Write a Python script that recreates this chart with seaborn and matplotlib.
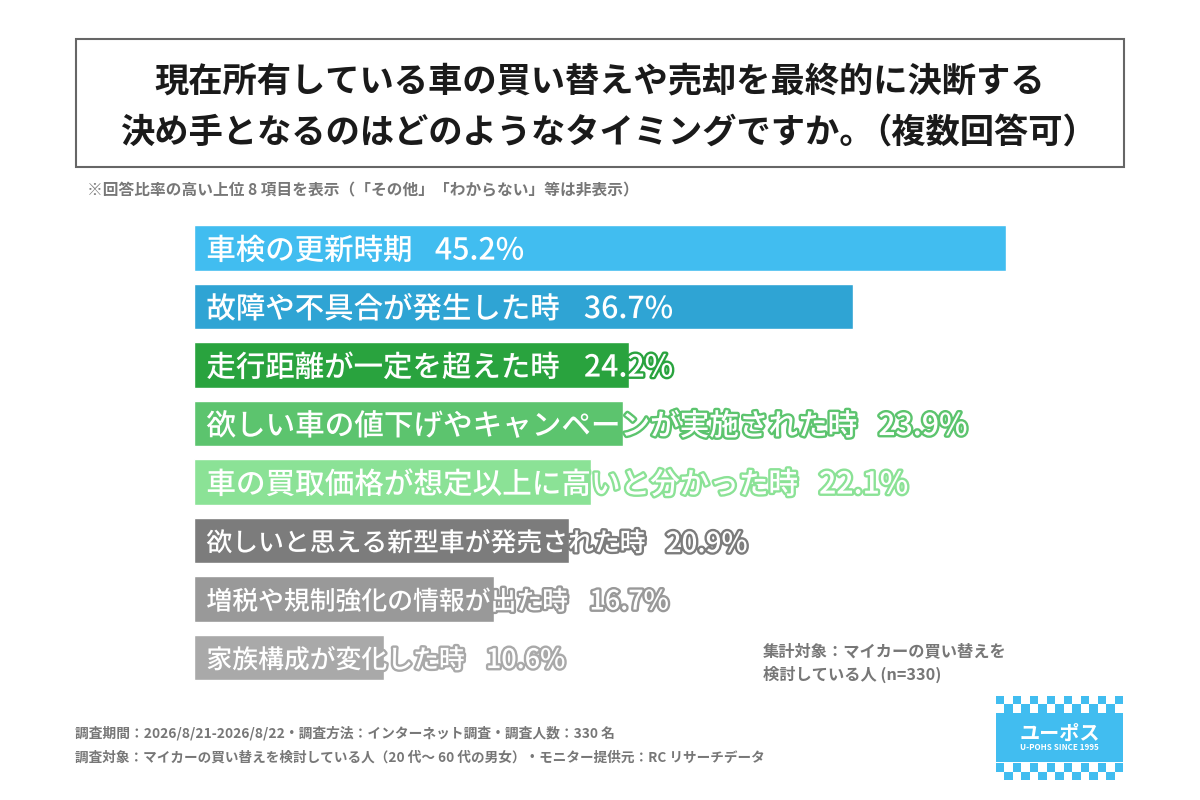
import matplotlib
matplotlib.use("Agg")
import matplotlib.pyplot as plt
import matplotlib.patheffects as pe
from matplotlib.patches import Rectangle
import pandas as pd
import seaborn as sns

title_line1 = "現在所有している車の買い替えや売却を最終的に決断する"
title_line2 = "決め手となるのはどのようなタイミングですか。"
title_paren = "（複数回答可）"
note = "※回答比率の高い上位 8 項目を表示（「その他」「わからない」等は非表示）"
labels = ["車検の更新時期", "故障や不具合が発生した時", "走行距離が一定を超えた時",
          "欲しい車の値下げやキャンペーンが実施された時", "車の買取価格が想定以上に高いと分かった時",
          "欲しいと思える新型車が発売された時", "増税や規制強化の情報が出た時", "家族構成が変化した時"]
values = [45.2, 36.7, 24.2, 23.9, 22.1, 20.9, 16.7, 10.6]
colors = ["#41bdf0", "#2fa4d4", "#29a33e", "#5cc46e", "#8be296", "#7c7c7c", "#999999", "#a9a9a9"]
label_sizes = [21.2, 21.2, 21.2, 21.3, 21.3, 18.6, 18.6, 18.6]
value_sizes = [21.8, 21.8, 21.8, 21.8, 21.8, 20.0, 19.4, 19.4]
value_gaps = [16.5, 18, 18, 14.5, 14.5, 14, 15, 15]
target = ["集計対象：マイカーの買い替えを", "検討している人 (n=330)"]
footer = ["調査期間：2026/8/21-2026/8/22・調査方法：インターネット調査・調査人数：330 名",
          "調査対象：マイカーの買い替えを検討している人（20 代～ 60 代の男女）・モニター提供元：RC リサーチデータ"]

W, H = 1200, 800
sns.set_theme(style="white")
plt.rcParams['font.family'] = ['Noto Sans CJK JP', 'DejaVu Sans']

fig = plt.figure(figsize=(12, 8), dpi=100)

# ページ全体 (ピクセル座標) 用の軸
bg = fig.add_axes([0, 0, 1, 1])
bg.set_xlim(0, W)
bg.set_ylim(H, 0)
bg.axis("off")

bg.add_patch(Rectangle((76, 39), 1048, 128, fill=False, ec="#666666", lw=1.5))
bg.text(600, 81, title_line1, ha="center", va="center", fontsize=24.7, fontweight="bold", color="#1a1a1a")
bg.text(120, 132, title_line2, ha="left", va="center", fontsize=24.7, fontweight="bold", color="#1a1a1a")
bg.text(977, 132, title_paren, ha="center", va="center", fontsize=24.7, fontweight="bold", color="#1a1a1a")
bg.text(87, 190, note, ha="left", va="center", fontsize=11.3, fontweight="bold", color="#777777")

# 棒グラフ
ax = fig.add_axes([193.6 / W, 1 - 686.75 / H, 812.4 / W, 468 / H])
df = pd.DataFrame({"label": labels, "value": values})
sns.barplot(data=df, x="value", y="label", hue="label", palette=colors, legend=False,
            orient="h", width=0.786, saturation=1, ax=ax)
ax.set_xlim(0, 45.2)
ax.set_ylim(7.5, -0.5)
ax.axis("off")

for i, (lab, val) in enumerate(zip(labels, values)):
    stroke = [pe.withStroke(linewidth=3.4, foreground=colors[i])]
    ann = ax.annotate(lab, xy=(0, i), xytext=(9.2, -2.2), textcoords="offset points",
                      ha="left", va="center", fontsize=label_sizes[i], fontweight="medium",
                      color="white", annotation_clip=False, path_effects=stroke)
    ax.annotate(f"{val}%", xy=(1, 0.5), xycoords=ann, xytext=(value_gaps[i], 0),
                textcoords="offset points", ha="left", va="center", fontsize=value_sizes[i],
                fontweight="medium", color="white", annotation_clip=False, path_effects=stroke)

bg.text(763, 651, target[0], ha="left", va="center", fontsize=11.7, fontweight="bold", color="#777777")
bg.text(763, 674, target[1], ha="left", va="center", fontsize=11.7, fontweight="bold", color="#777777")

bg.text(75, 733, footer[0], ha="left", va="center", fontsize=9.9, fontweight="bold", color="#777777")
bg.text(75, 758, footer[1], ha="left", va="center", fontsize=9.8, fontweight="bold", color="#777777")

# ロゴ
blue = "#41bdf0"
cell = 127 / 15
for r in range(4):
    y0 = 696 if r < 2 else 696 + 84 - 2 * cell
    yy = y0 + (r % 2) * cell
    for c in range(15):
        if (r + c) % 2 == 0:
            bg.add_patch(Rectangle((996 + c * cell, yy), cell, cell, fc=blue, ec="none"))
bg.add_patch(Rectangle((996, 713), 127, 49, fc=blue, ec="none"))
bg.text(1059.5, 733, "ユーポス", ha="center", va="center", fontsize=14.5, fontweight="bold", color="white")
bg.text(1059.5, 748, "U-POHS SINCE 1995", ha="center", va="center", fontsize=5.8, fontweight="bold", color="white")

fig.savefig("out.png", dpi=100)
